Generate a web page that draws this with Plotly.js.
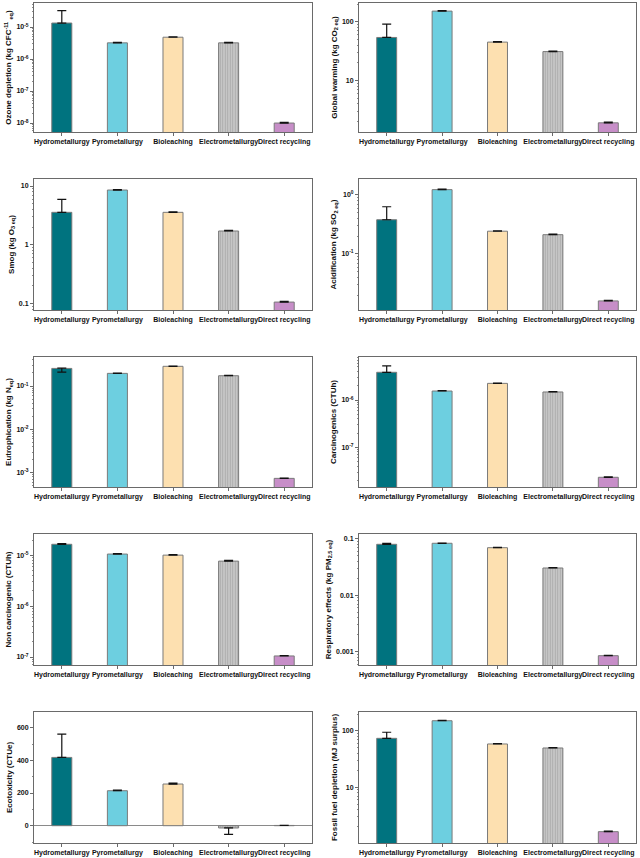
<!DOCTYPE html>
<html>
<head>
<meta charset="utf-8">
<script src="https://cdn.plot.ly/plotly-3.0.1.min.js"></script>
<style>html,body{margin:0;padding:0;background:#fff;}#chart{width:640px;height:858px;}</style>
</head>
<body>
<div id="chart"></div>
<script>
const categories = ['Hydrometallurgy', 'Pyrometallurgy', 'Bioleaching', 'Electrometallurgy', 'Direct recycling'];
const barColors = ['#00737f', '#6dcfe0', '#fde0b0', '#c6c6c6', '#c78ec8'];

// Ozone depletion (kg CFC-11 eq)
const ozoneValues = [1.33e-5, 3.2e-6, 4.8e-6, 3.2e-6, 1.0e-8];
const ozoneErrPlus = [1.9e-5, 1.0e-7, 1.5e-7, 1.0e-7, 5e-10];
const ozoneErrMinus = [0, 0, 0, 0, 0];
const ozoneTicks = [1e-8, 1e-7, 1e-6, 1e-5];
const ozoneTickText = ['10<sup>-8</sup>', '10<sup>-7</sup>', '10<sup>-6</sup>', '10<sup>-5</sup>'];

// Global warming (kg CO2 eq)
const warmingValues = [54, 152, 45, 31, 1.89];
const warmingErrPlus = [37, 3, 1, 0.6, 0.05];
const warmingErrMinus = [0, 0, 0, 0, 0];
const warmingTicks = [10, 100];
const warmingTickText = ['10', '100'];

// Smog (kg O3 eq)
const smogValues = [3.56, 8.55, 3.56, 1.71, 0.105];
const smogErrPlus = [2.35, 0.15, 0.06, 0.04, 0.003];
const smogErrMinus = [0, 0, 0, 0, 0];
const smogTicks = [0.1, 1, 10];
const smogTickText = ['0.1', '1', '10'];

// Acidification (kg SO2 eq)
const acidValues = [0.38, 1.23, 0.243, 0.212, 0.016];
const acidErrPlus = [0.25, 0.02, 0.004, 0.004, 0.0004];
const acidErrMinus = [0, 0, 0, 0, 0];
const acidTicks = [0.1, 1];
const acidTickText = ['10<sup>-1</sup>', '10<sup>0</sup>'];

// Eutrophication (kg N eq)
const eutroValues = [0.255, 0.196, 0.285, 0.173, 7.4e-4];
const eutroErrPlus = [0.005, 0.004, 0.005, 0.003, 1.5e-5];
const eutroErrMinus = [0.045, 0, 0, 0, 0];
const eutroTicks = [1e-3, 1e-2, 1e-1];
const eutroTickText = ['10<sup>-3</sup>', '10<sup>-2</sup>', '10<sup>-1</sup>'];

// Carcinogenics (CTUh)
const carcValues = [3.86e-6, 1.55e-6, 2.25e-6, 1.48e-6, 2.32e-8];
const carcErrPlus = [1.4e-6, 3e-8, 4e-8, 3e-8, 5e-10];
const carcErrMinus = [0, 0, 0, 0, 0];
const carcTicks = [1e-7, 1e-6];
const carcTickText = ['10<sup>-7</sup>', '10<sup>-6</sup>'];

// Non carcinogenic (CTUh)
const nonCarcValues = [1.65e-5, 1.06e-5, 1.01e-5, 7.7e-6, 1.05e-7];
const nonCarcErrPlus = [5e-7, 2e-7, 2e-7, 2.5e-7, 2e-9];
const nonCarcErrMinus = [0, 0, 0, 0, 0];
const nonCarcTicks = [1e-7, 1e-6, 1e-5];
const nonCarcTickText = ['10<sup>-7</sup>', '10<sup>-6</sup>', '10<sup>-5</sup>'];

// Respiratory effects (kg PM2.5 eq)
const respValues = [0.0796, 0.083, 0.0694, 0.0304, 8.6e-4];
const respErrPlus = [0.0035, 0.001, 0.001, 0.0004, 1.5e-5];
const respErrMinus = [0, 0, 0, 0, 0];
const respTicks = [0.001, 0.01, 0.1];
const respTickText = ['0.001', '0.01', '0.1'];

// Ecotoxicity (CTUe)
const ecoValues = [418, 214, 255, -14, 1.5];
const ecoErrPlus = [143, 4, 5, 0, 1];
const ecoErrMinus = [0, 0, 0, 39, 0];
const ecoTicks = [0, 200, 400, 600];
const ecoTickText = ['0', '200', '400', '600'];

// Fossil fuel depletion (MJ surplus)
const fossilValues = [74, 152, 58.8, 49.9, 1.63];
const fossilErrPlus = [21, 2, 1, 0.8, 0.03];
const fossilErrMinus = [0, 0, 0, 0, 0];
const fossilTicks = [10, 100];
const fossilTickText = ['10', '100'];

const panels = [
  {title: 'Ozone depletion (kg CFC<sup>-11</sup> <sub>eq</sub>)', v: ozoneValues, ep: ozoneErrPlus, em: ozoneErrMinus, tv: ozoneTicks, tt: ozoneTickText, log: true, range: [-8.28, -4.25]},
  {title: 'Global warming (kg CO<sub>2 eq</sub>)', v: warmingValues, ep: warmingErrPlus, em: warmingErrMinus, tv: warmingTicks, tt: warmingTickText, log: true, range: [0.12, 2.32]},
  {title: 'Smog (kg O<sub>3 eq</sub>)', v: smogValues, ep: smogErrPlus, em: smogErrMinus, tv: smogTicks, tt: smogTickText, log: true, range: [-1.114, 1.12]},
  {title: 'Acidification (kg SO<sub>2 eq</sub>)', v: acidValues, ep: acidErrPlus, em: acidErrMinus, tv: acidTicks, tt: acidTickText, log: true, range: [-1.95, 0.27]},
  {title: 'Eutrophication (kg N<sub>eq</sub>)', v: eutroValues, ep: eutroErrPlus, em: eutroErrMinus, tv: eutroTicks, tt: eutroTickText, log: true, range: [-3.33, -0.33]},
  {title: 'Carcinogenics (CTUh)', v: carcValues, ep: carcErrPlus, em: carcErrMinus, tv: carcTicks, tt: carcTickText, log: true, range: [-7.84, -5.09]},
  {title: 'Non carcinogenic (CTUh)', v: nonCarcValues, ep: nonCarcErrPlus, em: nonCarcErrMinus, tv: nonCarcTicks, tt: nonCarcTickText, log: true, range: [-7.157, -4.58]},
  {title: 'Respiratory effects (kg PM<sub>2.5 eq</sub>)', v: respValues, ep: respErrPlus, em: respErrMinus, tv: respTicks, tt: respTickText, log: true, range: [-3.23, -0.917]},
  {title: 'Ecotoxicity (CTUe)', v: ecoValues, ep: ecoErrPlus, em: ecoErrMinus, tv: ecoTicks, tt: ecoTickText, log: false, range: [-106, 696]},
  {title: 'Fossil fuel depletion (MJ surplus)', v: fossilValues, ep: fossilErrPlus, em: fossilErrMinus, tv: fossilTicks, tt: fossilTickText, log: true, range: [0.011, 2.337]}
];

// minor tick positions for log axes: 2..9 within each decade of the axis range
function logMinorTicks(range) {
  const out = [];
  for (let k = Math.floor(range[0]) - 1; k <= Math.ceil(range[1]); k++) {
    for (let m = 2; m <= 9; m++) {
      const v = m * Math.pow(10, k);
      const lv = Math.log10(v);
      if (lv > range[0] && lv < range[1]) out.push(v);
    }
  }
  return out;
}

const W = 640, H = 858;
const colX = [[34, 312], [359, 636]];
const rowY = [[3, 132], [179, 310], [357, 487], [534, 665], [712, 843]];

const FONT = 'Liberation Sans, Arial, sans-serif';
const data = [];
const layout = {
  width: W, height: H,
  margin: {l: 0, r: 0, t: 0, b: 0},
  paper_bgcolor: '#ffffff', plot_bgcolor: '#ffffff',
  showlegend: false,
  font: {family: FONT, color: '#111', size: 7, weight: 'bold'},
  bargap: 0
};

panels.forEach((p, i) => {
  const col = i % 2, row = Math.floor(i / 2);
  const n = i + 1;
  const xa = 'x' + (n === 1 ? '' : n), ya = 'y' + (n === 1 ? '' : n);
  data.push({
    type: 'bar', x: categories, y: p.v, xaxis: xa, yaxis: ya,
    width: 0.36,
    marker: {
      color: barColors,
      line: {color: '#7a7a7a', width: 1},
      pattern: {shape: ['', '', '', '|', ''], bgcolor: barColors, fgcolor: '#b2b2b2', size: 2.5, solidity: 0.15, fillmode: 'overlay'}
    },
    error_y: {type: 'data', symmetric: false, array: p.ep, arrayminus: p.em, color: '#111', thickness: 1.2, width: 4.5},
    hoverinfo: 'x+y'
  });
  const xk = 'xaxis' + (n === 1 ? '' : n), yk = 'yaxis' + (n === 1 ? '' : n);
  layout[xk] = {
    domain: [colX[col][0] / W, colX[col][1] / W],
    anchor: ya,
    type: 'category',
    range: [-0.5, 4.5],
    tickangle: 0,
    showline: true, mirror: true, linecolor: '#6a6a6a', linewidth: 1,
    ticks: 'outside', ticklen: 3, tickcolor: '#6a6a6a',
    tickfont: {family: FONT, size: 7, color: '#111', weight: 'bold'},
    showgrid: false, zeroline: false, fixedrange: true
  };
  const minor = p.log
    ? {tickmode: 'array', tickvals: logMinorTicks(p.range), ticks: 'outside', ticklen: 1.5, tickcolor: '#8a8a8a', tickwidth: 1}
    : {dtick: 100, ticks: 'outside', ticklen: 1.5, tickcolor: '#8a8a8a', tickwidth: 1};
  layout[yk] = {
    domain: [1 - rowY[row][1] / H, 1 - rowY[row][0] / H],
    anchor: xa,
    type: p.log ? 'log' : 'linear',
    range: p.range,
    tickmode: 'array', tickvals: p.tv, ticktext: p.tt,
    showline: true, mirror: true, linecolor: '#6a6a6a', linewidth: 1,
    ticks: 'outside', ticklen: 3, tickcolor: '#6a6a6a',
    minor: minor,
    tickfont: {family: FONT, size: 7, color: '#111', weight: 'bold'},
    showgrid: false,
    zeroline: !p.log, zerolinecolor: '#8a8a8a', zerolinewidth: 1,
    title: {text: p.title, font: {family: FONT, size: 8, color: '#111', weight: 'bold'}, standoff: 3},
    fixedrange: true
  };
});

Plotly.newPlot('chart', data, layout, {staticPlot: true, displayModeBar: false});
</script>
</body>
</html>
